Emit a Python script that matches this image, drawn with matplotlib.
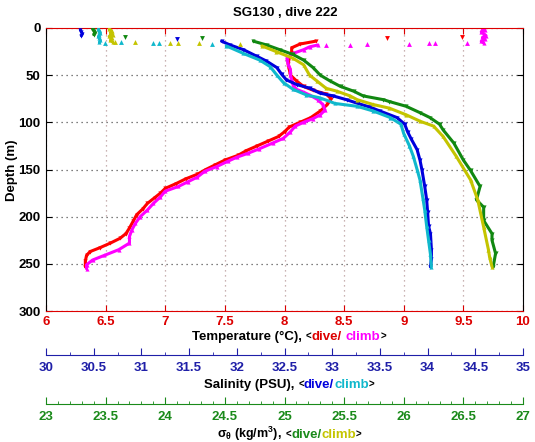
"""Seaglider SG130 dive 222: T, S and sigma-theta profiles vs depth."""

import matplotlib

matplotlib.use("Agg")
import matplotlib.pyplot as plt
import numpy as np
from matplotlib.offsetbox import AnnotationBbox, DrawingArea, HPacker, TextArea
from matplotlib.ticker import MultipleLocator

plt.rcParams["font.family"] = ["Liberation Sans", "DejaVu Sans"]
plt.rcParams["font.weight"] = "bold"
plt.rcParams["mathtext.default"] = "regular"

# ---- temperature (deg C) ----
temp_dive_depth = [14, 17, 21, 26, 32, 38, 44, 50, 56, 62, 66, 70, 75, 81, 88, 95, 100, 105, 110, 115,
                   120, 125, 130, 135, 140, 145, 150, 155, 160, 165, 170, 175, 180, 186, 192, 198, 205,
                   212, 218, 223, 228, 233, 237, 241, 247, 253]
temp_dive = [8.26, 8.13, 8.06, 8.06, 8.04, 8.03, 8.04, 8.05, 8.10, 8.16, 8.24, 8.35, 8.39, 8.36, 8.30,
             8.22, 8.13, 8.04, 8.00, 7.95, 7.86, 7.77, 7.68, 7.61, 7.50, 7.42, 7.34, 7.27, 7.17, 7.09,
             7.00, 6.96, 6.91, 6.85, 6.81, 6.76, 6.73, 6.70, 6.67, 6.62, 6.54, 6.45, 6.37, 6.34, 6.33, 6.33]
temp_climb_depth = [18, 20, 23, 27, 32, 38, 44, 50, 55, 60, 65, 68, 71, 76, 81, 87, 92, 96, 100, 104,
                    110, 117, 122, 128, 133, 137, 141, 147, 152, 158, 163, 168, 173, 179, 186, 193, 200,
                    207, 214, 221, 228, 235, 241, 246, 251, 255]
temp_climb = [8.28, 8.21, 8.16, 8.07, 8.02, 8.03, 8.05, 8.05, 8.06, 8.07, 8.10, 8.16, 8.21, 8.28, 8.32,
              8.34, 8.30, 8.24, 8.16, 8.09, 8.05, 7.99, 7.90, 7.79, 7.69, 7.60, 7.53, 7.43, 7.33, 7.27,
              7.19, 7.11, 7.00, 6.96, 6.90, 6.85, 6.79, 6.75, 6.72, 6.70, 6.70, 6.61, 6.49, 6.39, 6.34, 6.34]
temp_climb_surf_depth = [0, 2, 4, 6, 8, 10, 12, 14, 16]
temp_climb_surf = [9.66, 9.68, 9.65, 9.67, 9.69, 9.66, 9.68, 9.65, 9.67]
temp_dive_scatter_depth = [11, 10]
temp_dive_scatter = [8.86, 9.49]
temp_climb_scatter_depth = [18, 18, 17, 17, 16, 16, 16]
temp_climb_scatter = [8.35, 8.55, 8.69, 9.04, 9.21, 9.26, 9.53]

# ---- salinity (PSU) ----
sal_dive_depth = [14, 18, 23, 30, 35, 42, 49, 55, 60, 64, 69, 72, 76, 80, 84, 88, 95, 102, 110, 118,
                  129, 140, 150, 168, 182, 195, 210, 218, 235, 245, 253]
sal_dive = [31.84, 31.93, 32.07, 32.21, 32.31, 32.42, 32.47, 32.52, 32.63, 32.77, 32.87, 33.01, 33.15,
            33.27, 33.40, 33.50, 33.68, 33.76, 33.79, 33.83, 33.89, 33.92, 33.94, 33.97, 33.99, 34.00,
            34.01, 34.03, 34.04, 34.04, 34.03]
sal_climb_depth = [19, 27, 34, 41, 50, 58, 65, 71, 74, 80, 83, 88, 95, 102, 112, 125, 136, 150, 161,
                   180, 193, 210, 225, 240, 253]
sal_climb = [31.89, 32.07, 32.24, 32.35, 32.42, 32.49, 32.59, 32.73, 32.87, 33.03, 33.26, 33.43, 33.61,
             33.72, 33.75, 33.81, 33.85, 33.89, 33.92, 33.95, 33.97, 33.99, 34.01, 34.03, 34.04]
sal_dive_surf_depth = [2, 4, 6, 8]
sal_dive_surf = [30.36, 30.37, 30.38, 30.37]
sal_climb_surf_depth = [1, 3, 5, 7, 9, 11, 13, 15]
sal_climb_surf = [30.55, 30.56, 30.57, 30.56, 30.55, 30.56, 30.57, 30.56]
sal_dive_scatter_depth = [12]
sal_dive_scatter = [31.37]
sal_climb_scatter_depth = [16, 15, 16, 16, 17]
sal_climb_scatter = [30.62, 30.79, 31.12, 31.18, 31.74]

# ---- potential density sigma-theta (kg/m^3) ----
sig_dive_depth = [14, 18, 23, 28, 34, 42, 50, 56, 62, 67, 72, 76, 78, 83, 90, 95, 102, 108, 122, 140,
                  151, 168, 182, 190, 204, 218, 225, 239, 253]
sig_dive = [24.74, 24.85, 24.96, 25.07, 25.16, 25.24, 25.30, 25.38, 25.47, 25.58, 25.66, 25.83, 25.88,
            26.02, 26.14, 26.22, 26.30, 26.33, 26.42, 26.50, 26.56, 26.64, 26.61, 26.67, 26.67, 26.74,
            26.74, 26.77, 26.75]
sig_climb_depth = [19, 25, 32, 39, 50, 56, 64, 67, 72, 76, 81, 85, 92, 99, 104, 115, 136, 161, 182, 211,
                   235, 243, 253]
sig_climb = [24.81, 24.93, 25.07, 25.16, 25.21, 25.27, 25.35, 25.44, 25.55, 25.61, 25.74, 25.88, 26.02,
             26.14, 26.25, 26.33, 26.44, 26.56, 26.62, 26.67, 26.71, 26.72, 26.74]
sig_dive_surf_depth = [1, 3, 5, 7]
sig_dive_surf = [23.39, 23.40, 23.41, 23.40]
sig_climb_surf_depth = [1, 3, 5, 7, 9, 11, 13, 15]
sig_climb_surf = [23.53, 23.55, 23.54, 23.56, 23.53, 23.55, 23.54, 23.56]
sig_dive_scatter_depth = [10, 11]
sig_dive_scatter = [23.66, 24.31]
sig_climb_scatter_depth = [15, 15, 16, 16, 16, 17]
sig_climb_scatter = [23.58, 23.75, 24.04, 24.11, 24.28, 24.63]

TEMP_C, SAL_C, SIG_C = "#dd0000", "#1f1fa8", "#1a8a1a"
RED, MAG = "#ff0000", "#ff00ff"
BLUE, CYAN = "#0000dd", "#10b8cc"
GREEN, YEL = "#118811", "#c4c400"

W, H = 535, 442
L, R, T, B = 46, 523, 28, 311


def profile(ax, x, d, color, marker):
    ax.plot(x, d, color=color, lw=2.2, marker=marker, ms=3, mew=0, solid_capstyle="round")


def dots(ax, x, d, color, marker):
    ax.plot(x, d, ls="none", marker=marker, ms=3.5, mew=0, color=color)


def colored_label(fig, parts, x_px, y_px):
    kids = []
    for text, color, size in parts:
        if text is None:
            kids.append(DrawingArea(size, 1))
        else:
            kids.append(TextArea(text, textprops=dict(color=color, fontsize=size, fontweight="bold")))
    box = HPacker(children=kids, align="baseline", pad=0, sep=0)
    ab = AnnotationBbox(box, (x_px / W, 1 - y_px / H), xycoords="figure fraction",
                        frameon=False, box_alignment=(0.5, 0.5))
    fig.add_artist(ab)


fig = plt.figure(figsize=(W / 100, H / 100), dpi=100)
ax = fig.add_axes([L / W, 1 - B / H, (R - L) / W, (B - T) / H])
ax_s = ax.twiny()
ax_g = ax.twiny()

# temperature on the main axes
profile(ax, temp_dive, temp_dive_depth, RED, "v")
dots(ax, temp_dive_scatter, temp_dive_scatter_depth, RED, "v")
profile(ax, temp_climb, temp_climb_depth, MAG, "^")
profile(ax, temp_climb_surf, temp_climb_surf_depth, MAG, "^")
dots(ax, temp_climb_scatter, temp_climb_scatter_depth, MAG, "^")

# salinity
profile(ax_s, sal_dive, sal_dive_depth, BLUE, "v")
profile(ax_s, sal_dive_surf, sal_dive_surf_depth, BLUE, "v")
dots(ax_s, sal_dive_scatter, sal_dive_scatter_depth, BLUE, "v")
profile(ax_s, sal_climb, sal_climb_depth, CYAN, "^")
profile(ax_s, sal_climb_surf, sal_climb_surf_depth, CYAN, "^")
dots(ax_s, sal_climb_scatter, sal_climb_scatter_depth, CYAN, "^")

# sigma-theta
profile(ax_g, sig_dive, sig_dive_depth, GREEN, "v")
profile(ax_g, sig_dive_surf, sig_dive_surf_depth, GREEN, "v")
dots(ax_g, sig_dive_scatter, sig_dive_scatter_depth, GREEN, "v")
profile(ax_g, sig_climb, sig_climb_depth, YEL, "^")
profile(ax_g, sig_climb_surf, sig_climb_surf_depth, YEL, "^")
dots(ax_g, sig_climb_scatter, sig_climb_scatter_depth, YEL, "^")

# main axes
ax.set_ylim(300, 0)
ax.set_xlim(6, 10)
xt = np.arange(6, 10.01, 0.5)
ax.set_xticks(xt, [f"{v:g}" for v in xt])
ax.set_yticks(np.arange(0, 301, 50))
ax.tick_params(axis="x", colors=TEMP_C, direction="in", top=True, bottom=True,
               length=4, pad=3.5, labelsize=9.5)
ax.tick_params(axis="y", colors="black", direction="in", left=True, right=True,
               length=4, pad=4, labelsize=9.5)
for s in ("top", "bottom"):
    ax.spines[s].set_color(TEMP_C)
ax.xaxis.grid(True, ls=(0, (1, 3)), color="#b89a9a", lw=0.9)
ax.yaxis.grid(True, ls=(0, (1, 3)), color="#555555", lw=0.9)
ax.set_axisbelow(True)

# extra x axes below the main one
for tw, lim, col, off, minor in ((ax_s, (30, 35), SAL_C, 44, 0.25), (ax_g, (23, 27), SIG_C, 93, 0.1)):
    tw.set_xlim(*lim)
    tw.set_ylim(300, 0)
    tw.xaxis.set_ticks_position("bottom")
    tw.spines["bottom"].set_position(("outward", off * 0.72))
    for s in ("top", "left", "right"):
        tw.spines[s].set_visible(False)
    tw.spines["bottom"].set_color(col)
    ticks = np.arange(lim[0], lim[1] + 0.01, 0.5)
    tw.set_xticks(ticks, [f"{v:g}" for v in ticks])
    tw.xaxis.set_minor_locator(MultipleLocator(minor))
    tw.tick_params(axis="x", which="major", colors=col, direction="in", length=5, pad=5, labelsize=9.5)
    tw.tick_params(axis="x", which="minor", color=col, direction="in", length=2.5)

# twiny moves main ticks to bottom only; restore top ticks
ax.tick_params(axis="x", top=True, labeltop=False)

fig.text(285 / W, 1 - 13 / H, "SG130 , dive 222", ha="center", va="center", fontsize=9.5, fontweight="bold")
fig.text(12 / W, 1 - 170 / H, "Depth (m)", rotation=90, ha="center", va="center", fontsize=9.5,
         fontweight="bold")

colored_label(fig, [("Temperature (°C),", "black", 9.5), (None, None, 3), ("<", "black", 7),
                    ("dive/", TEMP_C, 9.5), (None, None, 3), ("climb", MAG, 9.5), (">", "black", 7)],
              289, 337)
colored_label(fig, [("Salinity (PSU),", "black", 9.5), (None, None, 3), ("<", "black", 7),
                    ("dive/", BLUE, 9.5), ("climb", CYAN, 9.5), (">", "black", 7)],
              289, 385)
colored_label(fig, [(r"σ$_\theta$ (kg/m$^3$),", "black", 9), (None, None, 3), ("<", "black", 7),
                    ("dive/", SIG_C, 9.5), ("climb", YEL, 9.5), (">", "black", 7)],
              289, 434)

fig.savefig("out.png", dpi=100)
